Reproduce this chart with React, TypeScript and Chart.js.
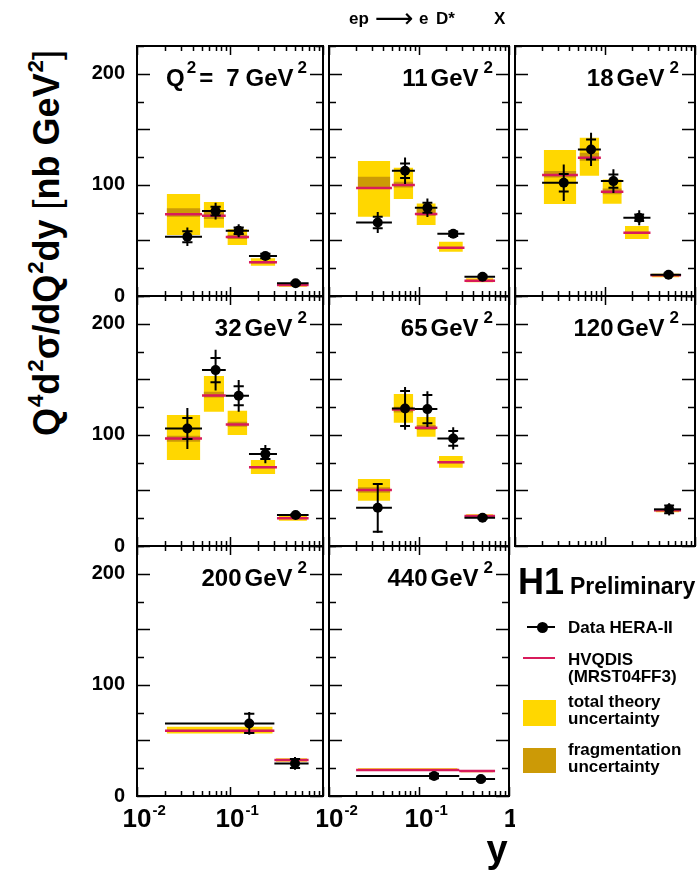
import React, { useEffect, useRef } from 'react';
import { Chart, registerables } from 'chart.js';
Chart.register(...registerables);

const FONT = "'Liberation Sans', Arial, Helvetica, sans-serif";
const YELLOW = '#ffd700';
const DARK = '#cc9a06';
const MAGENTA = '#d81b5b';

// ---- panels ----
const panelQ2 = ['7', '11', '18', '32', '65', '120', '200', '440'];
const panelCol = [0, 1, 2, 0, 1, 2, 0, 1];
const panelRow = [0, 0, 0, 1, 1, 1, 2, 2];

// ---- y bins ----
const stdLo = [0.02, 0.05, 0.09, 0.16, 0.32];
const stdHi = [0.05, 0.09, 0.16, 0.32, 0.7];
const stdMean = [0.0348, 0.07, 0.124, 0.24, 0.508];

const binLo = [stdLo, stdLo, stdLo, stdLo, stdLo, [0.35], [0.02, 0.3], [0.02, 0.28]];
const binHi = [stdHi, stdHi, stdHi, stdHi, stdHi, [0.7], [0.3, 0.7], [0.28, 0.7]];
const yMean = [stdMean, stdMean, stdMean, stdMean, stdMean, [0.516], [0.161, 0.5], [0.147, 0.487]];

// ---- data HERA-II ----
const dataVal = [
  [53.3, 76.4, 58.7, 36, 11.4],
  [66.2, 112.7, 79.4, 56, 17.4],
  [101.9, 131.9, 103.4, 70.4, 19.2],
  [105.8, 158.3, 135.2, 82.7, 27.9],
  [34.4, 123.8, 123.2, 96.8, 25.5],
  [33],
  [65.3, 29.3],
  [18, 15.2],
];
const errTot = [
  [8.3, 7.5, 5.8, 3, 2],
  [9.5, 12, 8.3, 3, 2],
  [16.5, 15, 10.7, 6.7, 2],
  [18.4, 18.3, 14.3, 8.3, 2],
  [22.4, 19.2, 16, 10, 2],
  [5.5],
  [10.2, 5.7],
  [3.3, 2],
];
const errStat = [
  [5, 4, 3, 2, 1],
  [5.2, 6.5, 4.5, 2, 1],
  [7.8, 9, 6, 3, 1],
  [9.4, 11, 8.5, 4.5, 1],
  [21.5, 15.8, 12.8, 6.6, 1],
  [3.5],
  [8.7, 4],
  [2, 1.2],
];

// ---- HVQDIS theory ----
const theory = [
  [73.5, 72.2, 53.1, 30.3, 9.9],
  [97.1, 99.8, 73.7, 43.5, 13.8],
  [108.8, 124.4, 93.8, 57, 18.6],
  [96.8, 135.5, 109.4, 70.8, 24.9],
  [50.4, 122.9, 106.4, 75.3, 27],
  [32.1],
  [58.7, 32.4],
  [23.4, 22.5],
];
const theoryLo = [
  [54.9, 61.4, 45.9, 27.3, 8.4],
  [71.3, 87.2, 63.8, 39.9, 12.3],
  [82.7, 108.2, 83, 51.3, 16.8],
  [77.3, 120.8, 99.8, 64.7, 22.8],
  [40.8, 110.9, 98.3, 70.4, 25.2],
  [30.3],
  [56.3, 30.9],
  [22.8, 21.3],
];
const theoryHi = [
  [91.7, 84.5, 60, 33.9, 11],
  [121.4, 115.4, 83.3, 48.8, 15.9],
  [131.3, 142.4, 104.9, 62.9, 20],
  [117.8, 152.9, 121.7, 77.3, 27.9],
  [60.3, 136.7, 116, 80.9, 28.5],
  [33.3],
  [62.3, 33.9],
  [24.9, 23.4],
];
const fragLo = [
  [71.3, 69.2, 51.3, 29.3, 9.5],
  [96.8, 97.7, 72.2, 42.8, 13.4],
  [106.7, 121.7, 91.5, 56.2, 18.2],
  [93.8, 133.7, 107.3, 70, 24.4],
  [48, 120.2, 104.3, 74.5, 26.5],
  [31.6],
  [57.8, 31.9],
  [23, 22],
];
const fragHi = [
  [78.9, 77.3, 55.2, 31.3, 10.3],
  [107.3, 102.8, 78.2, 44.2, 14.2],
  [112.4, 128.9, 96.8, 57.8, 19],
  [99.2, 138.8, 111.8, 71.6, 25.4],
  [52.8, 125.3, 108.8, 76.1, 27.5],
  [32.6],
  [59.6, 32.9],
  [23.8, 23],
];

// ---- axes ----
const yMin = 0;
const yMax = 225;
const yTickValues = [0, 100, 200];
const yMinorStep = 25;
const xMin = 0.01;
const xMax = 1;
const xTickValues = [0.01, 0.1, 1];
const xTickBase = ['10', '10', '1'];
const xTickExp = ['-2', '-1', ''];

// ---- layout (page px) ----
const COL_X = [137, 323, 509];
const ROW_Y = [46, 296, 546];
const PW = 186;
const PH = 250;

const BOX_INSET = Math.pow(10, 0.018);
const CAP = Math.pow(10, 0.055);

function buildDatasets(p: number) {
  const ds: any[] = [];
  const n = dataVal[p].length;
  const hidden = { borderColor: 'transparent', borderWidth: 0, pointRadius: 0, fill: false };
  for (let i = 0; i < n; i++) {
    const a = binLo[p][i] * BOX_INSET;
    const b = binHi[p][i] / BOX_INSET;
    ds.push({ ...hidden, data: [{ x: a, y: theoryHi[p][i] }, { x: b, y: theoryHi[p][i] }], fill: '+1', backgroundColor: YELLOW, order: 10 });
    ds.push({ ...hidden, data: [{ x: a, y: theoryLo[p][i] }, { x: b, y: theoryLo[p][i] }], order: 10 });
  }
  for (let i = 0; i < n; i++) {
    const a = binLo[p][i] * BOX_INSET;
    const b = binHi[p][i] / BOX_INSET;
    ds.push({ ...hidden, data: [{ x: a, y: fragHi[p][i] }, { x: b, y: fragHi[p][i] }], fill: '+1', backgroundColor: DARK, order: 9 });
    ds.push({ ...hidden, data: [{ x: a, y: fragLo[p][i] }, { x: b, y: fragLo[p][i] }], order: 9 });
  }
  const mag: any[] = [], bars: any[] = [], errs: any[] = [], caps: any[] = [], pts: any[] = [];
  for (let i = 0; i < n; i++) {
    const lo = binLo[p][i], hi = binHi[p][i], xm = yMean[p][i];
    const d = dataVal[p][i], t = errTot[p][i], s = errStat[p][i];
    mag.push({ x: lo, y: theory[p][i] }, { x: hi, y: theory[p][i] }, { x: hi, y: null });
    bars.push({ x: lo, y: d }, { x: hi, y: d }, { x: hi, y: null });
    errs.push({ x: xm, y: d - t }, { x: xm, y: d + t }, { x: xm, y: null });
    caps.push(
      { x: xm / CAP, y: d + s }, { x: xm * CAP, y: d + s }, { x: xm, y: null },
      { x: xm / CAP, y: d - s }, { x: xm * CAP, y: d - s }, { x: xm, y: null }
    );
    pts.push({ x: xm, y: d });
  }
  ds.push({ data: mag, borderColor: MAGENTA, borderWidth: 2.5, pointRadius: 0, fill: false, order: 5 });
  ds.push({ data: bars, borderColor: '#000', borderWidth: 2, pointRadius: 0, fill: false, order: 4 });
  ds.push({ data: errs, borderColor: '#000', borderWidth: 2, pointRadius: 0, fill: false, order: 3 });
  ds.push({ data: caps, borderColor: '#000', borderWidth: 2, pointRadius: 0, fill: false, order: 2 });
  ds.push({
    data: pts, showLine: false, pointRadius: 5, pointBackgroundColor: '#000',
    pointBorderColor: '#000', pointBorderWidth: 0, fill: false, order: 1,
  });
  return ds;
}

type Part = { t: string; sup?: boolean; gap?: number };

function labelParts(p: number): Part[] {
  if (p === 0) {
    return [
      { t: 'Q' }, { t: '2', sup: true, gap: 2 }, { t: '=', gap: 3 },
      { t: panelQ2[p], gap: 13 }, { t: 'GeV', gap: 6 }, { t: '2', sup: true, gap: 4 },
    ];
  }
  return [{ t: panelQ2[p] }, { t: 'GeV', gap: 3 }, { t: '2', sup: true, gap: 5 }];
}

function drawRich(ctx: CanvasRenderingContext2D, parts: Part[], xRight: number, base: number) {
  const main = `bold 24px ${FONT}`;
  const sup = `bold 17px ${FONT}`;
  let total = 0;
  const widths: number[] = [];
  for (const pt of parts) {
    ctx.font = pt.sup ? sup : main;
    const w = ctx.measureText(pt.t).width;
    widths.push(w);
    total += (pt.gap || 0) + w;
  }
  let x = xRight - total;
  ctx.textAlign = 'left';
  ctx.textBaseline = 'alphabetic';
  parts.forEach((pt, i) => {
    ctx.font = pt.sup ? sup : main;
    x += pt.gap || 0;
    ctx.fillText(pt.t, x, pt.sup ? base - 13 : base);
    x += widths[i];
  });
}

function makePlugin(p: number, isBottom: boolean, isLeftCol: boolean) {
  return {
    id: 'deco' + p,
    afterDatasetsDraw(chart: any) {
      const ctx: CanvasRenderingContext2D = chart.ctx;
      const { left, top, right, bottom } = chart.chartArea;
      const xs = chart.scales.x;
      const ys = chart.scales.y;
      ctx.save();
      ctx.strokeStyle = '#000';
      ctx.fillStyle = '#000';
      ctx.lineWidth = 1.5;
      ctx.beginPath();
      // y ticks (inside, both sides)
      for (let v = yMin; v <= yMax; v += yMinorStep) {
        const py = Math.round(ys.getPixelForValue(v)) + 0.5;
        const len = v % 50 === 0 ? 13 : 7;
        ctx.moveTo(left, py); ctx.lineTo(left + len, py);
        ctx.moveTo(right, py); ctx.lineTo(right - len, py);
      }
      // x ticks (inside, top and bottom)
      for (let e = -2; e <= 0; e++) {
        for (let k = 1; k <= 9; k++) {
          const v = k * Math.pow(10, e);
          if (v < xMin - 1e-9 || v > xMax + 1e-9) continue;
          const px = Math.round(xs.getPixelForValue(v)) + 0.5;
          const len = k === 1 ? 9 : 5;
          ctx.moveTo(px, bottom); ctx.lineTo(px, bottom - len);
          ctx.moveTo(px, top); ctx.lineTo(px, top + len);
        }
      }
      ctx.stroke();
      ctx.lineWidth = 2;
      ctx.strokeRect(left, top, right - left, bottom - top);

      // panel label
      drawRich(ctx, labelParts(p), right - 16, top + 40);

      // x tick labels
      if (isBottom) {
        xTickValues.forEach((v, i) => {
          if (isLeftCol && v === xMax) return;
          const px = xs.getPixelForValue(v);
          ctx.font = `bold 26px ${FONT}`;
          const w = ctx.measureText(xTickBase[i]).width;
          const x0 = px - w / 2 + (xTickExp[i] ? 0 : 2);
          ctx.textAlign = 'left';
          ctx.textBaseline = 'alphabetic';
          ctx.fillText(xTickBase[i], x0, bottom + 31);
          if (xTickExp[i]) {
            ctx.font = `bold 15px ${FONT}`;
            ctx.fillText(xTickExp[i], x0 + w + 1, bottom + 19);
          }
        });
      }
      ctx.restore();
    },
  };
}

function Panel({ p }: { p: number }) {
  const ref = useRef<HTMLCanvasElement>(null);
  const col = panelCol[p];
  const row = panelRow[p];
  const isLeft = col === 0;
  const isBottom = row === 2;
  const ml = isLeft ? 70 : 6;
  const mr = 6;
  const mt = 14;
  const mb = isBottom ? 44 : 14;
  const W = PW + ml + mr;
  const H = PH + mt + mb;

  useEffect(() => {
    if (!ref.current) return;
    const chart = new Chart(ref.current, {
      type: 'line',
      data: { datasets: buildDatasets(p) },
      options: {
        responsive: false,
        maintainAspectRatio: false,
        animation: false,
        events: [],
        devicePixelRatio: 1,
        layout: { padding: { left: isLeft ? 0 : ml, right: mr, top: mt, bottom: mb } },
        scales: {
          x: { type: 'logarithmic', min: xMin, max: xMax, display: false },
          y: {
            type: 'linear', min: yMin, max: yMax, display: isLeft, position: 'left',
            grid: { display: false, drawTicks: false },
            border: { display: false },
            ticks: { font: { family: FONT, size: 20, weight: 'bold' }, color: '#000', padding: 12 },
            afterBuildTicks: (s: any) => { s.ticks = yTickValues.map((v) => ({ value: v })); },
            afterFit: (s: any) => {
              s.width = ml;
              s.paddingTop = 0;
              s.paddingBottom = 0;
              s.paddingLeft = 0;
              s.paddingRight = 0;
            },
          },
        },
        plugins: { legend: { display: false }, tooltip: { enabled: false } },
      } as any,
      plugins: [makePlugin(p, isBottom, isLeft)],
    });
    return () => chart.destroy();
  }, [p]);

  return (
    <canvas
      ref={ref}
      width={W}
      height={H}
      style={{ position: 'absolute', left: COL_X[col] - ml, top: ROW_Y[row] - mt, width: W, height: H }}
    />
  );
}

function Txt(props: { x: number; base: number; size: number; children: any; align?: string; weight?: string; family?: string }) {
  const { x, base, size, children, align = 'left', weight = 'bold', family = FONT } = props;
  const st: any = {
    position: 'absolute', top: base - 0.8465 * size, fontFamily: family, fontSize: size,
    fontWeight: weight, lineHeight: 1, whiteSpace: 'nowrap', color: '#000',
  };
  if (align === 'center') { st.left = x; st.transform = 'translateX(-50%)'; }
  else st.left = x;
  return <div style={st}>{children}</div>;
}

const Sup = ({ children }: { children: any }) => (
  <span style={{ fontSize: '0.62em', position: 'relative', top: '-0.72em', marginLeft: '0.04em' }}>{children}</span>
);

export default function App() {
  return (
    <div style={{ position: 'absolute', left: 0, top: 0, width: 700, height: 874, background: '#fff', overflow: 'hidden' }}>
      {panelQ2.map((_, p) => <Panel key={p} p={p} />)}

      {/* top title */}
      <Txt x={349} base={24} size={17}>ep</Txt>
      <Txt x={375} base={27} size={27} weight="normal" family="'DejaVu Sans', sans-serif">⟶</Txt>
      <Txt x={419} base={24} size={17}>e</Txt>
      <Txt x={436} base={24} size={17}>D*</Txt>
      <Txt x={494} base={24} size={17}>X</Txt>

      {/* y-axis title */}
      <div style={{
        position: 'absolute', left: 47, top: 243, transform: 'translate(-50%,-50%) rotate(-90deg)',
        fontFamily: FONT, fontWeight: 'bold', fontSize: 36, lineHeight: 1, whiteSpace: 'nowrap', color: '#000',
      }}>
        Q<Sup>4</Sup>d<Sup>2</Sup>σ/dQ<Sup>2</Sup>dy <span style={{ fontWeight: 'normal' }}>[</span>nb GeV<Sup>2</Sup><span style={{ fontWeight: 'normal' }}>]</span>
      </div>

      {/* x-axis title */}
      <Txt x={497} base={862} size={38} align="center">y</Txt>

      {/* legend */}
      <Txt x={518} base={594} size={36}>H1</Txt>
      <Txt x={570} base={594} size={23}>Preliminary</Txt>

      <div style={{ position: 'absolute', left: 527, top: 626, width: 28, height: 2, background: '#000' }} />
      <div style={{ position: 'absolute', left: 537, top: 622, width: 11, height: 11, borderRadius: '50%', background: '#000' }} />
      <Txt x={568} base={633} size={17}>Data HERA-II</Txt>

      <div style={{ position: 'absolute', left: 523, top: 657, width: 32, height: 2, background: MAGENTA }} />
      <Txt x={568} base={665} size={17}>HVQDIS</Txt>
      <Txt x={568} base={682} size={17}>(MRST04FF3)</Txt>

      <div style={{ position: 'absolute', left: 523, top: 700, width: 33, height: 26, background: YELLOW }} />
      <Txt x={568} base={707} size={17}>total theory</Txt>
      <Txt x={568} base={724} size={17}>uncertainty</Txt>

      <div style={{ position: 'absolute', left: 523, top: 748, width: 33, height: 25, background: DARK }} />
      <Txt x={568} base={755} size={17}>fragmentation</Txt>
      <Txt x={568} base={772} size={17}>uncertainty</Txt>
    </div>
  );
}
